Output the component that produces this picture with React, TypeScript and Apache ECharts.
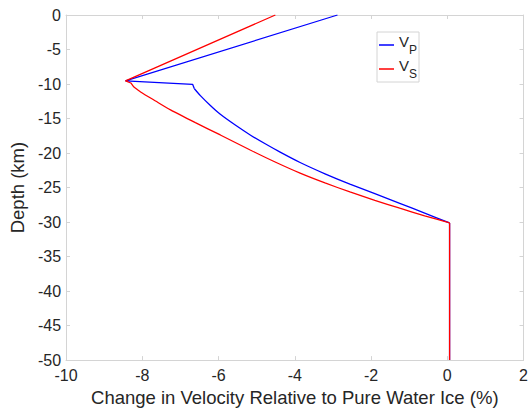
import React, { useEffect, useRef } from "react";
import * as echarts from "echarts";

const xTicks = [-10, -8, -6, -4, -2, 0, 2];
const yTicks = [0, -5, -10, -15, -20, -25, -30, -35, -40, -45, -50];

// Vp: straight upper part, curved middle part, vertical lower part
const vpUpperX = [-2.88, -8.44, -6.68, -6.633];
const vpUpperY = [0, -9.54, -10.05, -10.68];
const vpCurveX = [-6.633, -6.476, -6.214, -5.953, -5.561, -5.169, -4.776, -4.384, -3.861, -3.208, -2.554, -1.247, -0.593, 0.06];
const vpCurveY = [-10.68, -11.68, -13.11, -14.39, -15.95, -17.38, -18.66, -19.87, -21.37, -23.01, -24.5, -27.28, -28.7, -30.13];
const vpLowerX = [0.06, 0.06];
const vpLowerY = [-30.13, -50];

// Vs
const vsUpperX = [-4.51, -8.44, -8.3, -8.22];
const vsUpperY = [0, -9.54, -9.85, -10.44];
const vsCurveX = [-8.22, -8.044, -7.652, -7.26, -6.607, -5.953, -5.169, -4.515, -3.861, -3.208, -2.554, -1.901, -1.247, -0.593, 0.06];
const vsCurveY = [-10.44, -11.15, -12.46, -13.75, -15.6, -17.38, -19.56, -21.3, -22.91, -24.33, -25.64, -26.85, -27.99, -29.09, -30.13];
const vsLowerX = [0.06, 0.06];
const vsLowerY = [-30.13, -50];

const seriesNames = ["Vp", "Vs"];
const seriesColors = ["#0000ff", "#ff0000"];
const xName = "Change in Velocity Relative to Pure Water Ice (%)";
const yName = "Depth (km)";

const FONT = "'Liberation Sans', Arial, sans-serif";
const AXIS_GRAY = "#d4d4d4";
const TEXT = "#262626";

const zip = (xs: number[], ys: number[]) => xs.map((x, i) => [x, ys[i]]);

export default function App() {
  const ref = useRef<HTMLDivElement>(null);
  useEffect(() => {
    if (!ref.current) return;
    const chart = echarts.init(ref.current, undefined, { renderer: "svg" });
    const axisCommon = {
      axisLine: { show: true, onZero: false, lineStyle: { color: AXIS_GRAY, width: 1 } },
      axisTick: { show: true, inside: true, length: 4, lineStyle: { color: AXIS_GRAY } },
      splitLine: { show: false },
    };
    const mk = (idx: number, data: number[][], smooth: number | boolean) => ({
      name: seriesNames[idx],
      type: "line",
      data,
      smooth,
      showSymbol: false,
      symbol: "none",
      lineStyle: { color: seriesColors[idx], width: 1.3 },
      itemStyle: { color: seriesColors[idx] },
    });
    chart.setOption({
      animation: false,
      backgroundColor: "#ffffff",
      textStyle: { fontFamily: FONT },
      grid: { left: 65.2, right: 6.8, top: 15, bottom: 46, containLabel: false },
      xAxis: [
        {
          type: "value",
          min: xTicks[0],
          max: xTicks[xTicks.length - 1],
          interval: 2,
          position: "bottom",
          name: xName,
          nameLocation: "middle",
          nameGap: 23,
          nameTextStyle: { fontSize: 18.5, color: TEXT, fontFamily: FONT },
          axisLabel: { fontSize: 16, color: TEXT, margin: 7, fontFamily: FONT, showMinLabel: true, showMaxLabel: true },
          ...axisCommon,
        },
        {
          type: "value",
          min: xTicks[0],
          max: xTicks[xTicks.length - 1],
          interval: 2,
          position: "top",
          axisLabel: { show: false },
          ...axisCommon,
        },
      ],
      yAxis: [
        {
          type: "value",
          min: yTicks[yTicks.length - 1],
          max: yTicks[0],
          interval: 5,
          position: "left",
          name: yName,
          nameLocation: "middle",
          nameGap: 32,
          nameTextStyle: { fontSize: 18.5, color: TEXT, fontFamily: FONT },
          axisLabel: { fontSize: 16, color: TEXT, margin: 5, fontFamily: FONT, showMinLabel: true, showMaxLabel: true },
          ...axisCommon,
        },
        {
          type: "value",
          min: yTicks[yTicks.length - 1],
          max: yTicks[0],
          interval: 5,
          position: "right",
          axisLabel: { show: false },
          ...axisCommon,
        },
      ],
      legend: {
        orient: "vertical",
        left: 377,
        top: 32,
        padding: [2, 2, 2, 2],
        itemGap: 2,
        itemWidth: 15,
        itemHeight: 1.5,
        icon: "rect",
        backgroundColor: "#ffffff",
        borderColor: "#d4d4d4",
        borderWidth: 1,
        borderRadius: 0,
        data: seriesNames,
        formatter: (name: string) => `{a|V}{b|${name.slice(1).toUpperCase()}}`,
        textStyle: {
          color: TEXT,
          fontFamily: FONT,
          rich: {
            a: { fontSize: 15, color: TEXT, fontFamily: FONT, padding: [0, 0, 7, 0] },
            b: { fontSize: 12, color: TEXT, fontFamily: FONT, verticalAlign: "bottom" },
          },
        },
      },
      series: [
        mk(0, zip(vpUpperX, vpUpperY), false),
        mk(0, zip(vpCurveX, vpCurveY), 0.2),
        mk(0, zip(vpLowerX, vpLowerY), false),
        mk(1, zip(vsUpperX, vsUpperY), false),
        mk(1, zip(vsCurveX, vsCurveY), 0.2),
        mk(1, zip(vsLowerX, vsLowerY), false),
      ],
    });
    return () => chart.dispose();
  }, []);
  return (
    <div
      ref={ref}
      style={{ position: "absolute", left: 0, top: 0, width: 531, height: 412 }}
    />
  );
}
